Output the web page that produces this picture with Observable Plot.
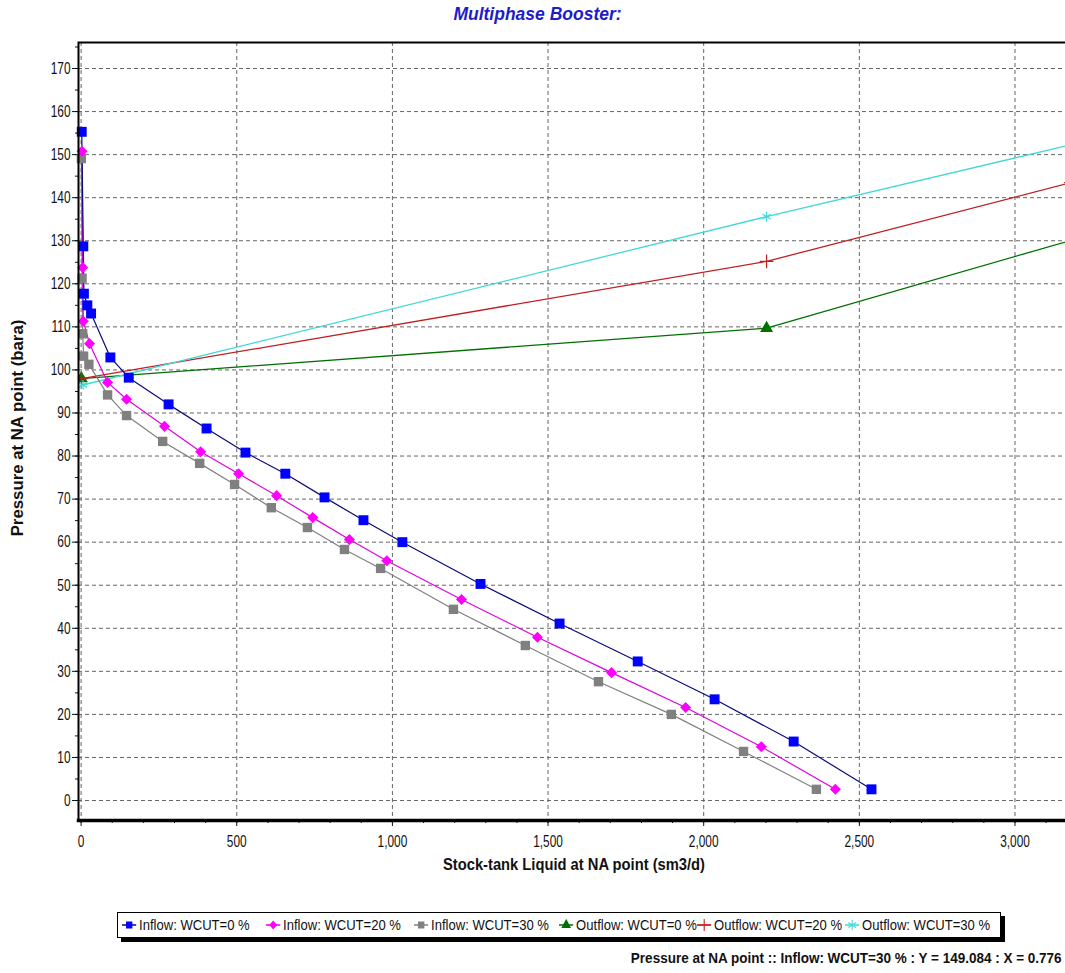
<!DOCTYPE html>
<html><head><meta charset="utf-8">
<script src="https://cdn.jsdelivr.net/npm/d3@7"></script>
<script src="https://cdn.jsdelivr.net/npm/@observablehq/plot@0.6"></script>
<style>
html,body{margin:0;padding:0;background:#fff;overflow:hidden;}
#wrap{position:relative;width:1065px;height:973px;overflow:hidden;background:#fff;}
#wrap > svg{position:absolute;left:0;top:0;max-width:none !important;}
#title{position:absolute;top:4px;left:0;width:1075px;text-align:center;font:italic bold 17.5px "Liberation Sans",Arial,sans-serif;color:#1c1cc8;}
#xtitle{position:absolute;top:856px;left:0;width:1148px;text-align:center;font:bold 16px "Liberation Sans",Arial,sans-serif;color:#111;transform:scaleX(0.92);transform-origin:574px 0;}
#ytitle{position:absolute;left:18px;top:428px;transform:translate(-50%,-50%) rotate(-90deg);white-space:nowrap;font:bold 16.8px "Liberation Sans",Arial,sans-serif;color:#111;}
#legend{position:absolute;left:117px;top:912px;width:882px;height:24px;border:1px solid #000;box-shadow:4px 4px 0 #000;background:#fff;}
.item{position:absolute;top:4px;display:flex;align-items:center;font:14.5px "Liberation Sans",Arial,sans-serif;color:#111;white-space:nowrap;transform:scaleX(0.9);transform-origin:0 50%;}
#legend svg{position:static;margin-right:3px;}
#caption{position:absolute;right:3px;top:949px;font:bold 15px "Liberation Sans",Arial,sans-serif;color:#111;white-space:nowrap;transform:scaleX(0.9);transform-origin:100% 50%;}
</style></head>
<body><div id="wrap"></div>
<script>
// ---- data ----
const titleText = "Multiphase Booster:";
const xLabel = "Stock-tank Liquid at NA point (sm3/d)";
const yLabel = "Pressure at NA point (bara)";
const captionText = "Pressure at NA point :: Inflow: WCUT=30 % : Y = 149.084 : X = 0.776";
const xTicks = [0, 500, 1000, 1500, 2000, 2500, 3000];
const xMinorTicks = d3.range(0, 3101, 100);
const yTicks = d3.range(0, 171, 10);
const yMinorTicks = d3.range(0, 176, 5);

const seriesNames = ["Inflow: WCUT=0 %", "Inflow: WCUT=20 %", "Inflow: WCUT=30 %",
  "Outflow: WCUT=0 %", "Outflow: WCUT=20 %", "Outflow: WCUT=30 %"];

const inflow0 = [[2,155.3],[7,128.7],[9,117.7],[20,115.0],[32,113.1],[94,102.9],[153,98.2],
  [281,92.0],[403,86.4],[528,80.8],[656,75.9],[782,70.4],[907,65.1],[1032,60.0],
  [1283,50.3],[1537,41.1],[1788,32.3],[2035,23.5],[2289,13.7],[2539,2.6]];
const inflow20 = [[3,150.8],[5,123.8],[7,111.3],[27,106.1],[85,97.1],[146,93.2],[268,86.9],
  [384,81.0],[506,75.9],[628,70.8],[744,65.7],[862,60.6],[982,55.7],[1222,46.7],
  [1466,37.9],[1704,29.7],[1942,21.6],[2185,12.5],[2423,2.6]];
const inflow30 = [[0.776,149.084],[3,121.3],[5,108.4],[8,103.2],[25,101.3],[85,94.2],[146,89.4],
  [262,83.4],[381,78.3],[493,73.4],[611,68.0],[727,63.4],[846,58.3],[962,53.9],
  [1196,44.4],[1427,36.0],[1662,27.6],[1896,20.0],[2128,11.4],[2362,2.6]];
const outflow0 = [[1,98.0],[2202,109.7],[3180,130.1]];
const outflow20 = [[1,98.0],[2202,125.2],[3180,143.5]];
const outflow30 = [[6,96.5],[2202,135.6],[3180,152.3]];

// ---- styles ----
const colors = {
  in0Line:"#0a0a78", in0:"#0000ff",
  in20Line:"#e000e0", in20:"#ff00ff",
  in30Line:"#808080", in30:"#808080",
  out0:"#007000", out20:"#c02020", out30:"#40d8d8"
};

const X = d => d[0], Y = d => d[1];

const chart = Plot.plot({
  width: 1070, height: 880,
  marginLeft: 78, marginTop: 42, marginRight: 0, marginBottom: 60,
  x: {domain: [-8.4, 3178.3]},
  y: {domain: [-4.64, 176.04]},
  style: {fontFamily: '"Liberation Sans",Arial,sans-serif', fontSize: "16.5px", color: "#111", background: "white", maxWidth: "none"},
  marks: [
    Plot.gridX(xTicks, {stroke: "#666", strokeOpacity: 1, strokeDasharray: "4,3"}),
    Plot.gridY(yTicks, {stroke: "#666", strokeOpacity: 1, strokeDasharray: "4,3"}),
    Plot.axisX(xMinorTicks, {tickSize: 3, tickFormat: () => "", label: null}),
    Plot.axisX(xTicks, {tickSize: 6, tickPadding: 9, fontSize: 16.5, tickFormat: d3.format(","), label: null}),
    Plot.axisY(yMinorTicks, {tickSize: 3, tickFormat: () => "", label: null}),
    Plot.axisY(yTicks, {tickSize: 6, tickPadding: 2, fontSize: 16.5, label: null}),
    // outflow
    Plot.line(outflow0, {x: X, y: Y, stroke: colors.out0, strokeWidth: 1.3, clip: true}),
    Plot.line(outflow20, {x: X, y: Y, stroke: colors.out20, strokeWidth: 1.3, clip: true}),
    Plot.line(outflow30, {x: X, y: Y, stroke: colors.out30, strokeWidth: 1.3, clip: true}),
    // inflow lines
    Plot.line(inflow30, {x: X, y: Y, stroke: colors.in30Line, strokeWidth: 1.2}),
    Plot.line(inflow20, {x: X, y: Y, stroke: colors.in20Line, strokeWidth: 1.2}),
    Plot.line(inflow0, {x: X, y: Y, stroke: colors.in0Line, strokeWidth: 1.2}),
    // markers
    Plot.dot(inflow30, {x: X, y: Y, symbol: "square", fill: colors.in30, r: 5.3}),
    Plot.dot(inflow20, {x: X, y: Y, symbol: "diamond2", fill: colors.in20, r: 5}),
    Plot.dot(inflow0, {x: X, y: Y, symbol: "square", fill: colors.in0, r: 5.6}),
    Plot.dot(outflow0, {x: X, y: Y, symbol: "triangle", fill: colors.out0, r: 4.8, clip: true}),
    Plot.dot(outflow20, {x: X, y: Y, symbol: "plus", stroke: colors.out20, strokeWidth: 1.2, r: 4.5, clip: true}),
    Plot.dot(outflow30, {x: X, y: Y, symbol: "asterisk", stroke: colors.out30, strokeWidth: 1.2, r: 4.5, clip: true}),
    Plot.frame({stroke: "black", strokeWidth: 2}),
    Plot.frame({anchor: "bottom", stroke: "black", strokeWidth: 3.5})
  ]
});
chart.style.maxWidth = "none";
chart.style.width = "1070px";
chart.style.height = "880px";

const wrap = document.getElementById("wrap");
wrap.appendChild(chart);

// condense the tick labels horizontally, as in the reference
chart.querySelectorAll("text").forEach(t => {
  t.style.fontSize = "16.5px";
  t.style.fontFamily = '"Liberation Sans",Arial,sans-serif';
  const tr = t.getAttribute("transform");
  if (tr) t.setAttribute("transform", tr + " scale(0.72,1)");
  else {
    const x = +t.getAttribute("x") || 0, y = +t.getAttribute("y") || 0;
    t.removeAttribute("x"); t.removeAttribute("y");
    t.setAttribute("transform", `translate(${x},${y}) scale(0.72,1)`);
  }
});

function addDiv(id, text) {
  const d = document.createElement("div");
  d.id = id; d.textContent = text;
  wrap.appendChild(d);
  return d;
}
addDiv("title", titleText);
addDiv("xtitle", xLabel);
addDiv("ytitle", yLabel);
addDiv("caption", captionText);

// legend
const legendStyles = [
  {line: colors.in0Line, mark: "square", color: colors.in0},
  {line: colors.in20Line, mark: "diamond", color: colors.in20},
  {line: colors.in30Line, mark: "square", color: colors.in30},
  {line: colors.out0, mark: "triangle", color: colors.out0},
  {line: colors.out20, mark: "plus", color: colors.out20},
  {line: colors.out30, mark: "asterisk", color: colors.out30}
];
const legendLeft = [4, 148, 296, 441, 579, 727];
const legend = document.createElement("div");
legend.id = "legend";
wrap.appendChild(legend);
const ns = "http://www.w3.org/2000/svg";
seriesNames.forEach((name, i) => {
  const st = legendStyles[i];
  const item = document.createElement("div");
  item.className = "item";
  item.style.left = legendLeft[i] + "px";
  const svg = document.createElementNS(ns, "svg");
  svg.setAttribute("width", 16); svg.setAttribute("height", 12);
  const ln = document.createElementNS(ns, "line");
  ln.setAttribute("x1", 0); ln.setAttribute("x2", 16); ln.setAttribute("y1", 6); ln.setAttribute("y2", 6);
  ln.setAttribute("stroke", st.line); ln.setAttribute("stroke-width", 1.3);
  svg.appendChild(ln);
  const sym = {square: d3.symbolSquare, diamond: d3.symbolDiamond2, triangle: d3.symbolTriangle,
               plus: d3.symbolPlus, asterisk: d3.symbolAsterisk}[st.mark];
  const stroked = st.mark === "plus" || st.mark === "asterisk";
  const p = document.createElementNS(ns, "path");
  p.setAttribute("d", d3.symbol(sym, stroked ? 70 : 50)());
  p.setAttribute("transform", "translate(8,6)");
  if (stroked) { p.setAttribute("fill", "none"); p.setAttribute("stroke", st.color); p.setAttribute("stroke-width", 1.2); }
  else p.setAttribute("fill", st.color);
  svg.appendChild(p);
  item.appendChild(svg);
  const t = document.createElement("span");
  t.textContent = name;
  item.appendChild(t);
  legend.appendChild(item);
});
</script>
</body></html>
